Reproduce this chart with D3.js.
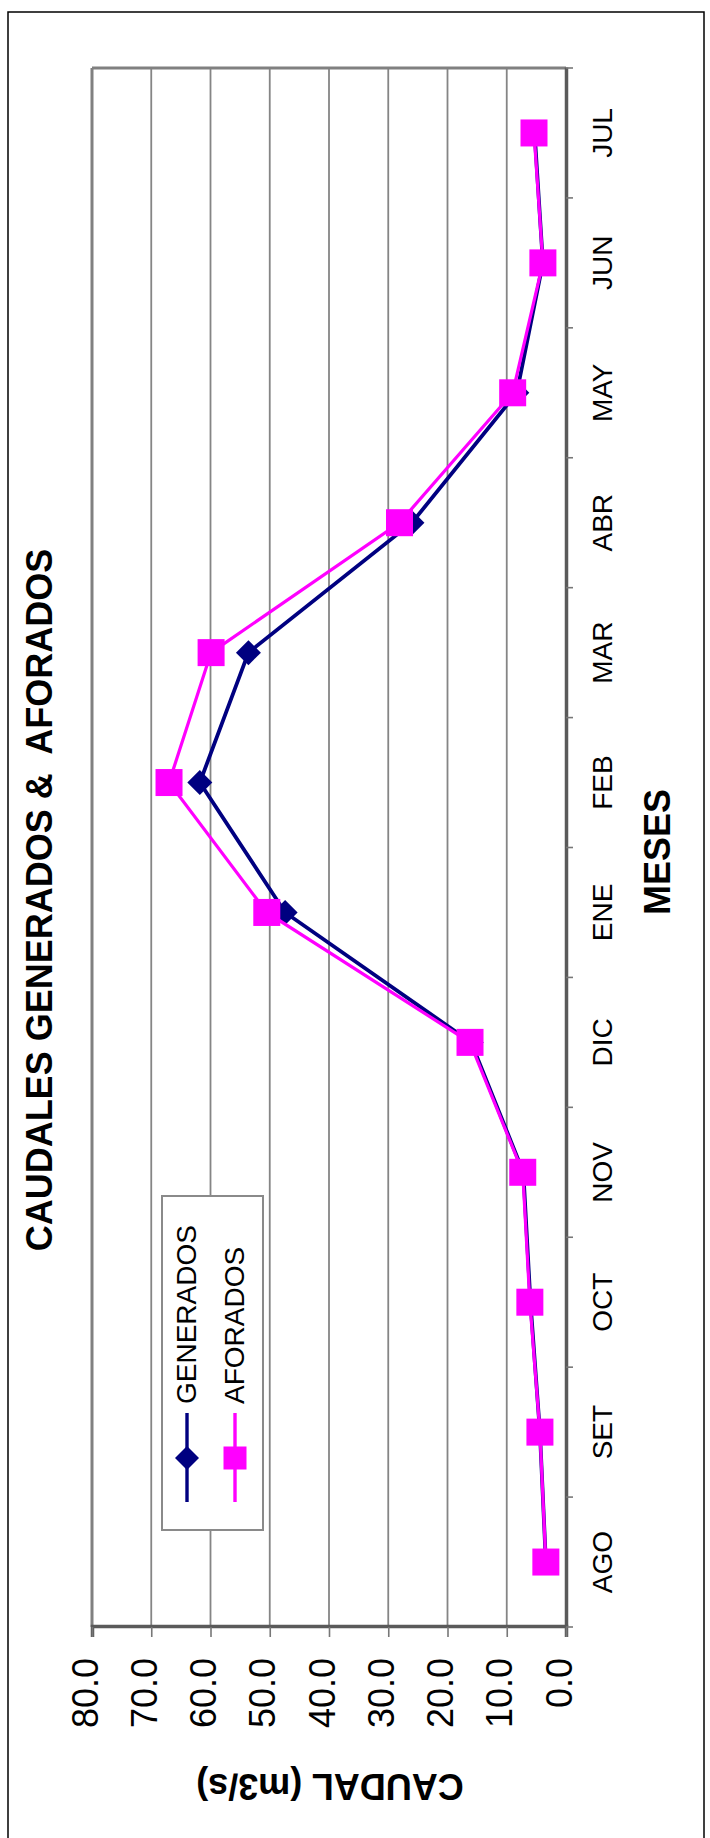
<!DOCTYPE html>
<html>
<head>
<meta charset="utf-8">
<script src="https://cdn.jsdelivr.net/npm/d3@7"></script>
<style>
  html, body { margin: 0; padding: 0; background: #fff; }
  svg { display: block; }
  text { font-family: "Liberation Sans", Arial, Helvetica, sans-serif; fill: #000; }
</style>
</head>
<body>
<script>
// ---- data ----
const months = ["AGO", "SET", "OCT", "NOV", "DIC", "ENE", "FEB", "MAR", "ABR", "MAY", "JUN", "JUL"];
const generados = [3.4, 4.4, 6.0, 7.2, 16.0, 47.4, 61.8, 53.6, 26.0, 8.3, 3.9, 5.3];
const aforados  = [3.4, 4.4, 6.1, 7.3, 16.2, 50.5, 67.0, 59.9, 28.1, 9.0, 3.9, 5.4];
const valueTicks = [0, 10, 20, 30, 40, 50, 60, 70, 80];
const seriesNames = ["GENERADOS", "AFORADOS"];
const titleText = "CAUDALES GENERADOS &  AFORADOS";
const xTitle = "MESES";
const yTitle = "CAUDAL (m3/s)";

const W = 710, H = 1838;
const svg = d3.select("body").append("svg").attr("width", W).attr("height", H);

// outer frame
svg.append("rect").attr("x", 8).attr("y", 12).attr("width", 696).attr("height", 1850)
  .attr("fill", "#fff").attr("stroke", "#000").attr("stroke-width", 1.5);

// chart drawn in landscape frame, rotated -90deg onto the page
const g = svg.append("g").attr("transform", `translate(0,${H}) rotate(-90)`);

const uL = 211, uR = 1770, vT = 92, vB = 566;
const x = d3.scaleBand().domain(months).range([uL, uR]).paddingInner(0).paddingOuter(0);
const y = d3.scaleLinear().domain([0, 80]).range([vB, vT]);
const cx = d => x(d) + x.bandwidth() / 2;

// plot background
g.append("rect").attr("x", uL).attr("y", vT).attr("width", uR - uL).attr("height", vB - vT).attr("fill", "#fff");

// gridlines
g.append("g").selectAll("line").data(valueTicks).join("line")
  .attr("x1", uL).attr("x2", uR).attr("y1", d => y(d)).attr("y2", d => y(d))
  .attr("stroke", "#858585").attr("stroke-width", 1.8);

// plot frame (top/right in landscape frame)
g.append("line").attr("x1", uR).attr("x2", uR).attr("y1", vT).attr("y2", vB)
  .attr("stroke", "#808080").attr("stroke-width", 3);
g.append("line").attr("x1", uL).attr("x2", uR).attr("y1", vT).attr("y2", vT)
  .attr("stroke", "#808080").attr("stroke-width", 3);

// value axis
const yAxis = d3.axisLeft(y).tickValues(valueTicks).tickFormat(d3.format(".1f")).tickSize(10).tickPadding(21);
const ya = g.append("g").attr("transform", `translate(${uL},0)`).call(yAxis);
ya.select(".domain").attr("stroke", "#5a5a5a").attr("stroke-width", 3.5);
ya.selectAll(".tick line").attr("stroke", "#777").attr("stroke-width", 1.6);
ya.selectAll(".tick text").attr("font-size", 36).attr("dy", 5).attr("fill", "#000");

// category axis
const xAxis = d3.axisBottom(x).tickSize(0).tickPadding(0);
const xa = g.append("g").attr("transform", `translate(0,${vB})`).call(xAxis);
xa.select(".domain").attr("stroke", "#5a5a5a").attr("stroke-width", 3.5);
xa.selectAll(".tick text").attr("font-size", 28).attr("dy", 0).attr("y", 46).attr("fill", "#000");
// category boundary ticks
const bounds = months.map(m => x(m)).concat([uR]);
g.append("g").selectAll("line").data(bounds).join("line")
  .attr("x1", d => d).attr("x2", d => d).attr("y1", vB).attr("y2", vB + 7)
  .attr("stroke", "#777").attr("stroke-width", 1.6);

// series
const line = vals => d3.line().x((d, i) => cx(months[i])).y(d => y(d))(vals);
const diamond = (s) => `M0,${-s/2}L${s/2},0L0,${s/2}L${-s/2},0Z`;

g.append("path").attr("d", line(generados)).attr("fill", "none").attr("stroke", "#000080").attr("stroke-width", 3.8);
g.append("g").selectAll("path").data(generados).join("path")
  .attr("transform", (d, i) => `translate(${cx(months[i])},${y(d)})`)
  .attr("d", diamond(25)).attr("fill", "#000080");

g.append("path").attr("d", line(aforados)).attr("fill", "none").attr("stroke", "#FF00FF").attr("stroke-width", 3.2);
g.append("g").selectAll("rect").data(aforados).join("rect")
  .attr("x", (d, i) => cx(months[i]) - 13.5).attr("y", d => y(d) - 13.5)
  .attr("width", 27).attr("height", 27).attr("fill", "#FF00FF");

// legend
const lg = g.append("g");
lg.append("rect").attr("x", 308).attr("y", 162).attr("width", 334).attr("height", 101)
  .attr("fill", "#fff").attr("stroke", "#8a8a8a").attr("stroke-width", 2);
const legendRows = [
  { name: seriesNames[0], color: "#000080", v: 187, shape: "diamond" },
  { name: seriesNames[1], color: "#FF00FF", v: 235, shape: "square" }
];
legendRows.forEach(r => {
  lg.append("line").attr("x1", 336).attr("x2", 425).attr("y1", r.v).attr("y2", r.v)
    .attr("stroke", r.color).attr("stroke-width", 3.4);
  if (r.shape === "diamond") {
    lg.append("path").attr("transform", `translate(380,${r.v})`).attr("d", diamond(24)).attr("fill", r.color);
  } else {
    lg.append("rect").attr("x", 380 - 11.5).attr("y", r.v - 11.5).attr("width", 23).attr("height", 23).attr("fill", r.color);
  }
  lg.append("text").attr("x", 434).attr("y", r.v + 9).attr("font-size", 28).text(r.name);
});

// titles
g.append("text").attr("x", 938).attr("y", 52).attr("text-anchor", "middle")
  .attr("font-size", 36).attr("font-weight", "bold").style("white-space", "pre").text(titleText);
g.append("text").attr("x", 986).attr("y", 670).attr("text-anchor", "middle")
  .attr("font-size", 36).attr("font-weight", "bold").text(xTitle);
g.append("text").attr("transform", "translate(64,330) rotate(-90)").attr("text-anchor", "middle")
  .attr("font-size", 36).attr("font-weight", "bold").text(yTitle);
</script>
</body>
</html>
